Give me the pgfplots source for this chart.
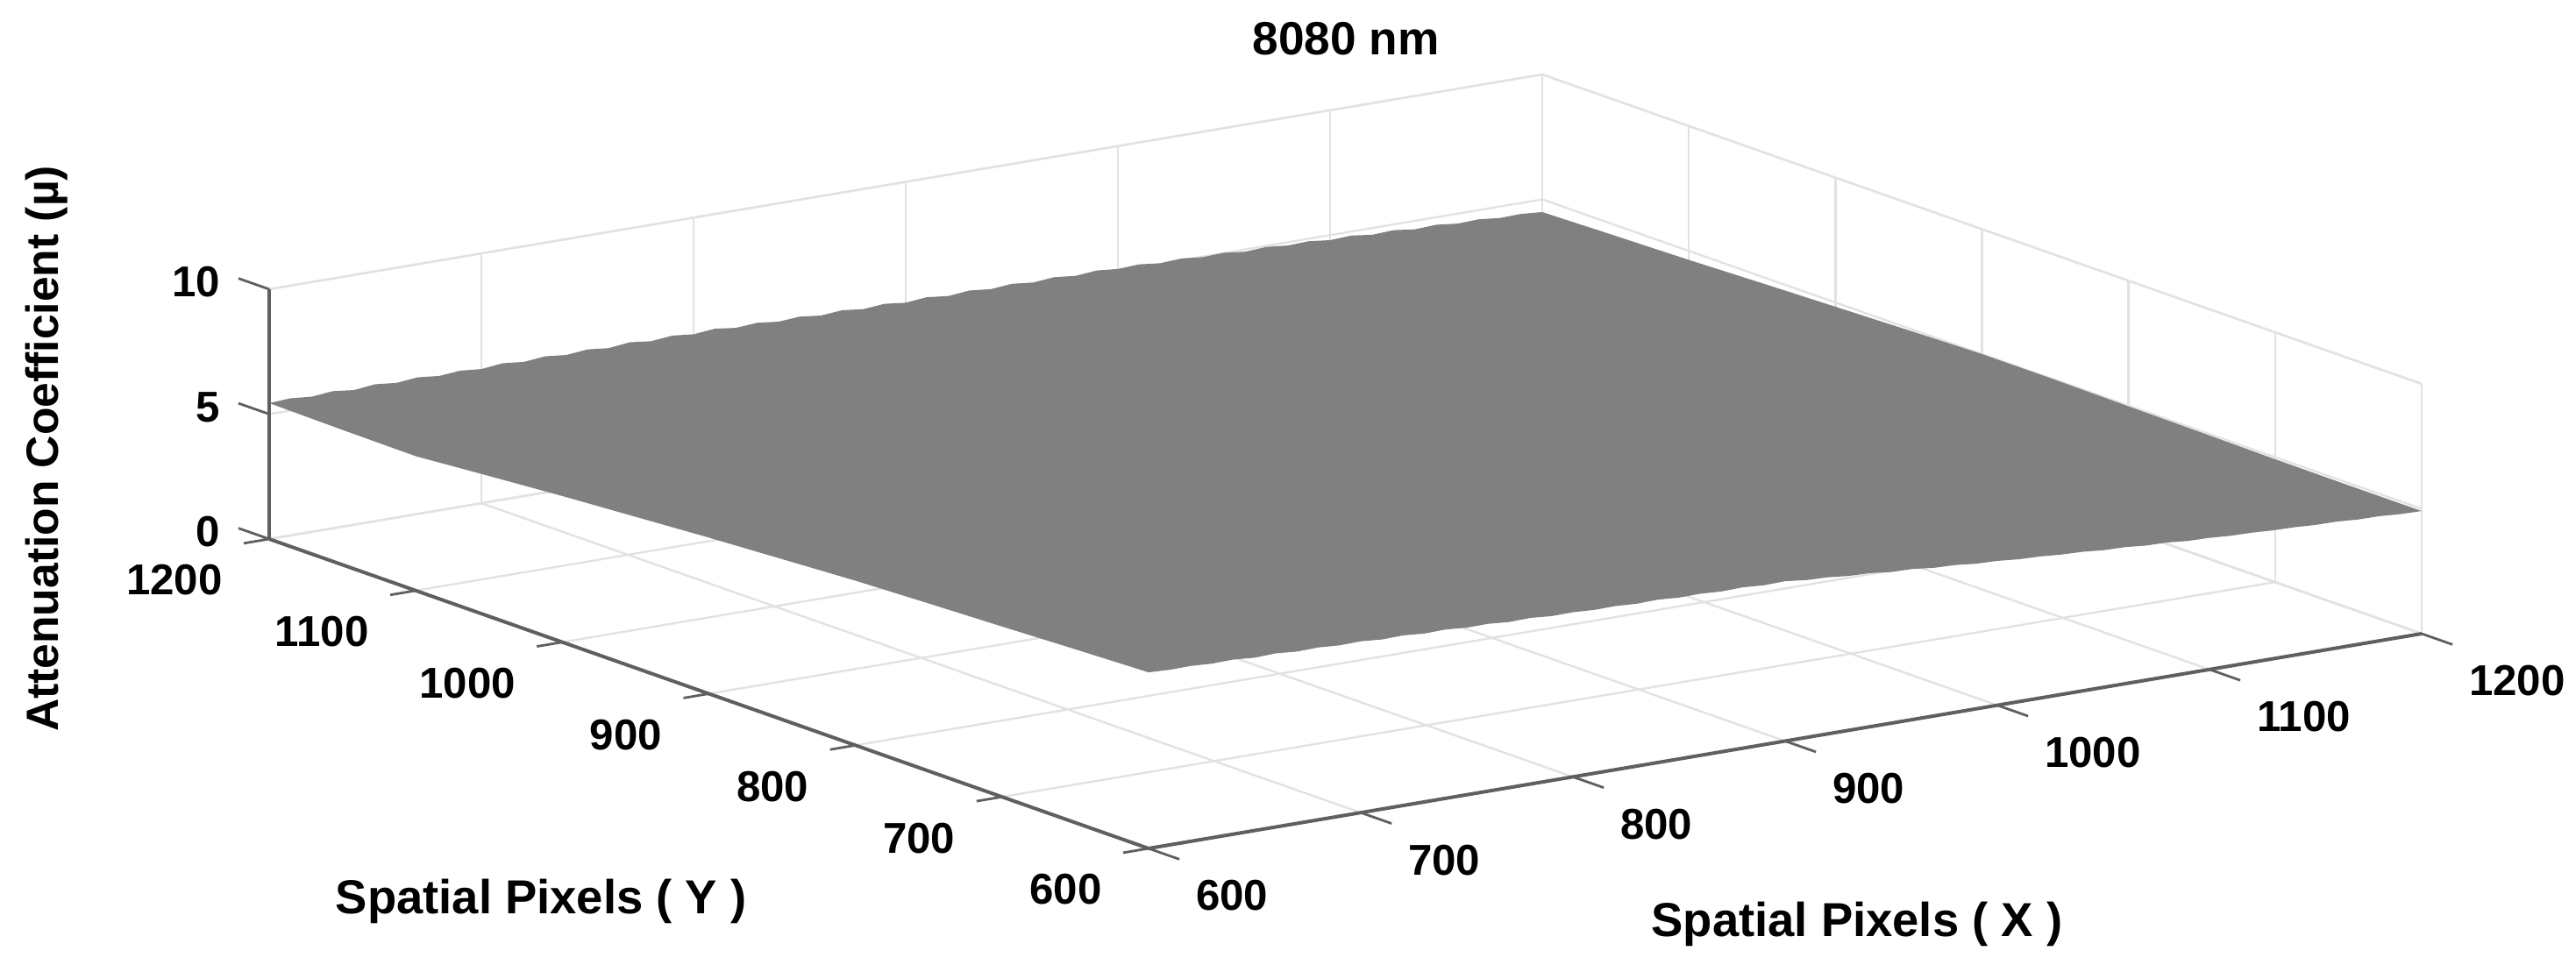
\documentclass[border=0pt]{standalone}
\usepackage{pgfplots}
\pgfplotsset{compat=1.18}
\usepackage{fontspec}
\setmainfont{Liberation Sans}
\definecolor{axdark}{RGB}{95,95,95}
\definecolor{wall}{RGB}{226,226,226}
\definecolor{surfgray}{RGB}{128,128,128}
\begin{document}
\begin{tikzpicture}[x=1pt,y=1pt]
\begin{axis}[
  at={(0,0)}, anchor=south west,
  x={(0.605pt,0.1021pt)}, y={(-0.4179pt,0.1471pt)}, z={(0pt,7.125pt)},
  xmin=600,xmax=1200,ymin=600,ymax=1200,zmin=0,zmax=10,
  xtick={600,700,800,900,1000,1100,1200},
  ytick={600,700,800,900,1000,1100,1200},
  ztick={0,5,10},
  xmajorgrids=true, ymajorgrids=true, zmajorgrids=true,
  grid style={wall,line width=0.6pt},
  axis line style={wall,line width=0.6pt},
  clip=false,
  major tick length=0pt,
  tick label style={font=\bfseries\fontsize{12.3}{14}\selectfont},
  xticklabel style={anchor=west,xshift=10pt,yshift=-13.5pt},
  yticklabel style={anchor=east,xshift=-9.85pt,yshift=-11.75pt},
  zticklabel style={anchor=east,xshift=-10.5pt,yshift=2pt},
  /pgf/number format/assume math mode=true,
  /pgf/number format/1000 sep={},
  title={8080 nm},
  xlabel={Spatial Pixels ( X )},
  ylabel={Spatial Pixels ( Y )},
  zlabel={Attenuation Coefficient (µ)},
  title style={at={(axis cs:693,600,30.25)},anchor=center,font=\bfseries\fontsize{13.3}{16}\selectfont},
  xlabel style={at={(axis cs:759.8,348,-0.13)},anchor=center,font=\bfseries\fontsize{13.6}{16}\selectfont,sloped=false,rotate=0},
  ylabel style={at={(axis cs:361.2,668.8,-0.13)},anchor=center,font=\bfseries\fontsize{13.6}{16}\selectfont,sloped=false,rotate=0},
  zlabel style={at={(axis cs:494.9,1200,5.12)},anchor=center,font=\bfseries\fontsize{12.9}{16}\selectfont,rotate=0},
  colormap={flatgray}{rgb255(0cm)=(128,128,128); rgb255(1cm)=(128,128,128)},
]
% axis lines in front of the walls
\addplot3[axdark,line width=1pt] coordinates {(600,1200,0)(600,600,0)(1200,600,0)};
\addplot3[axdark,line width=0.8pt] coordinates {(600,1200,0)(600,1200,10)};
% tick marks: X ticks point along -Y, Y ticks along -X, Z ticks along +Y
\addplot3[axdark,line width=0.7pt] coordinates {
(600,600,0)(600,579,0)

(700,600,0)(700,579,0)

(800,600,0)(800,579,0)

(900,600,0)(900,579,0)

(1000,600,0)(1000,579,0)

(1100,600,0)(1100,579,0)

(1200,600,0)(1200,579,0)

(600,600,0)(588,600,0)

(600,700,0)(588,700,0)

(600,800,0)(588,800,0)

(600,900,0)(588,900,0)

(600,1000,0)(588,1000,0)

(600,1100,0)(588,1100,0)

(600,1200,0)(588,1200,0)

(600,1200,0)(600,1221,0)

(600,1200,5)(600,1221,5)

(600,1200,10)(600,1221,10)
};
% outline of the attenuation surface (edges are noisy)
\addplot3[fill=surfgray,draw=none] coordinates {
(600,600,7.05)(610,600,7.01)(620,600,7.02)(630,600,6.97)(640,600,6.99)(650,600,6.92)(660,600,6.95)(670,600,6.88)(680,600,6.90)(690,600,6.84)
(700,600,6.86)(710,600,6.79)(720,600,6.81)(730,600,6.74)(740,600,6.76)(750,600,6.69)(760,600,6.70)(770,600,6.63)(780,600,6.65)(790,600,6.58)
(800,600,6.59)(810,600,6.54)(820,600,6.55)(830,600,6.50)(840,600,6.52)(850,600,6.46)(860,600,6.47)(870,600,6.42)(880,600,6.44)(890,600,6.38)
(900,600,6.40)(910,600,6.30)(920,600,6.27)(930,600,6.18)(940,600,6.15)(950,600,6.05)(960,600,6.03)(970,600,5.93)(980,600,5.90)(990,600,5.81)
(1000,600,5.78)(1010,600,5.70)(1020,600,5.67)(1030,600,5.60)(1040,600,5.57)(1050,600,5.49)(1060,600,5.47)(1070,600,5.39)(1080,600,5.37)(1090,600,5.29)
(1100,600,5.27)(1110,600,5.21)(1120,600,5.19)(1130,600,5.14)(1140,600,5.12)(1150,600,5.07)(1160,600,5.06)(1170,600,5.00)(1180,600,4.99)(1190,600,4.93)
(1200,600,4.91)(1200,650,4.91)(1200,700,4.92)(1200,750,4.95)(1200,800,4.97)(1200,850,5.00)(1200,900,5.00)(1200,950,4.92)(1200,1000,4.83)(1200,1050,4.74)(1200,1100,4.64)(1200,1150,4.57)
(1200,1200,4.49)(1190,1200,4.56)(1180,1200,4.54)(1170,1200,4.63)(1160,1200,4.60)(1150,1200,4.70)(1140,1200,4.66)(1130,1200,4.77)(1120,1200,4.73)(1110,1200,4.84)
(1100,1200,4.80)(1090,1200,4.90)(1080,1200,4.87)(1070,1200,4.96)(1060,1200,4.91)(1050,1200,5.01)(1040,1200,4.98)(1030,1200,5.07)(1020,1200,5.02)(1010,1200,5.12)
(1000,1200,5.08)(990,1200,5.16)(980,1200,5.09)(970,1200,5.18)(960,1200,5.11)(950,1200,5.20)(940,1200,5.13)(930,1200,5.22)(920,1200,5.14)(910,1200,5.24)
(900,1200,5.16)(890,1200,5.26)(880,1200,5.19)(870,1200,5.29)(860,1200,5.22)(850,1200,5.32)(840,1200,5.26)(830,1200,5.36)(820,1200,5.30)(810,1200,5.41)
(800,1200,5.33)(790,1200,5.42)(780,1200,5.34)(770,1200,5.44)(760,1200,5.35)(750,1200,5.44)(740,1200,5.36)(730,1200,5.45)(720,1200,5.37)(710,1200,5.46)
(700,1200,5.37)(690,1200,5.45)(680,1200,5.38)(670,1200,5.47)(660,1200,5.39)(650,1200,5.48)(640,1200,5.39)(630,1200,5.49)(620,1200,5.41)(610,1200,5.49)
(600,1200,5.44)(600,1150,5.40)(600,1100,5.38)(600,1050,5.62)(600,1000,5.85)(600,950,6.05)(600,900,6.25)(600,850,6.42)(600,800,6.59)(600,750,6.71)(600,700,6.82)(600,650,6.94)
};
% interior of the surface
\addplot3[surf,shader=faceted,faceted color=surfgray,line width=0.3pt] table[x=x,y=y,z=z] {
x y z
608 608 7.05
700 608 6.84
800 608 6.57
900 608 6.38
1000 608 5.76
1100 608 5.25
1192 608 4.91

608 700 6.82
700 700 6.60
800 700 6.37
900 700 6.18
1000 700 5.65
1100 700 5.18
1192 700 4.92

608 800 6.59
700 800 6.36
800 800 6.17
900 800 5.98
1000 800 5.54
1100 800 5.11
1192 800 4.97

608 900 6.25
700 900 6.12
800 900 5.97
900 900 5.79
1000 900 5.44
1100 900 5.05
1192 900 5.00

608 1000 5.85
700 1000 5.88
800 1000 5.77
900 1000 5.59
1000 1000 5.33
1100 1000 4.98
1192 1000 4.83

608 1100 5.38
700 1100 5.64
800 1100 5.57
900 1100 5.39
1000 1100 5.22
1100 1100 4.91
1192 1100 4.64

608 1192 5.44
700 1192 5.40
800 1192 5.37
900 1192 5.19
1000 1192 5.11
1100 1192 4.84
1192 1192 4.49
};
\coordinate (B) at (axis cs:600,600,0);
\end{axis}
\path (B) ++(-327.5,-35) coordinate (LL) ++(734.5,277) coordinate (UR);
\pgfresetboundingbox
\useasboundingbox (LL) rectangle (UR);
\end{tikzpicture}
\end{document}
